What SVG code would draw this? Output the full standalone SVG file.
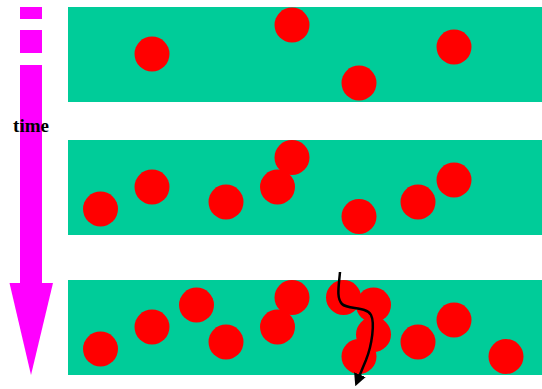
<svg xmlns="http://www.w3.org/2000/svg" width="542" height="389" viewBox="0 0 542 389">
<defs>
<style>
.band{fill:#00CC99}
.p{fill:#FF0000}
.t{fill:#FF00FF}
.lbl{font-family:"Liberation Serif","Times New Roman","DejaVu Serif",serif;font-weight:bold;font-size:19px;fill:#000}
</style>
<marker id="ah" viewBox="0 0 10 10" refX="2" refY="5" markerWidth="5" markerHeight="5" orient="auto" markerUnits="strokeWidth">
<path d="M0,0 L10,5 L0,10 Z" fill="#000"/>
</marker>
</defs>
<rect width="542" height="389" fill="#fff"/>
<g id="time-arrow">
<rect class="t" x="20" y="7" width="22" height="12"/>
<rect class="t" x="20" y="30" width="22" height="23"/>
<rect class="t" x="20" y="65" width="22" height="219"/>
<polygon class="t" points="9.5,283 53,283 31,375"/>
<text class="lbl" x="31" y="132" text-anchor="middle">time</text>
</g>
<g id="frame1">
<rect class="band" x="68" y="7" width="474" height="95"/>
<circle class="p" cx="152" cy="54" r="17.5"/>
<circle class="p" cx="292" cy="25" r="17.5"/>
<circle class="p" cx="359" cy="83" r="17.5"/>
<circle class="p" cx="454" cy="47" r="17.5"/>
</g>
<g id="frame2">
<rect class="band" x="68" y="140" width="474" height="95"/>
<circle class="p" cx="100.5" cy="209" r="17.5"/>
<circle class="p" cx="152" cy="187" r="17.5"/>
<circle class="p" cx="226" cy="202" r="17.5"/>
<circle class="p" cx="292" cy="157.5" r="17.5"/>
<circle class="p" cx="277.5" cy="187" r="17.5"/>
<circle class="p" cx="359" cy="216.5" r="17.5"/>
<circle class="p" cx="418" cy="202" r="17.5"/>
<circle class="p" cx="454" cy="180" r="17.5"/>
</g>
<g id="frame3">
<rect class="band" x="68" y="280" width="474" height="95"/>
<circle class="p" cx="100.5" cy="349" r="17.5"/>
<circle class="p" cx="152" cy="327" r="17.5"/>
<circle class="p" cx="196.5" cy="305" r="17.5"/>
<circle class="p" cx="226" cy="342" r="17.5"/>
<circle class="p" cx="292" cy="297.5" r="17.5"/>
<circle class="p" cx="277.5" cy="327" r="17.5"/>
<circle class="p" cx="343.5" cy="297.5" r="17.5"/>
<circle class="p" cx="373.5" cy="305" r="17.5"/>
<circle class="p" cx="373.5" cy="334.5" r="17.5"/>
<circle class="p" cx="359" cy="356.5" r="17.5"/>
<circle class="p" cx="418" cy="342" r="17.5"/>
<circle class="p" cx="454" cy="320" r="17.5"/>
<circle class="p" cx="506" cy="356.5" r="17.5"/>
</g>
<g id="connectors">
<path d="M340,272 C339,285 336,298 342,304 C348,310 366,306 371,315 C375,323 372,345 366,360 C363,367 361,372 359,377" fill="none" stroke="#000" stroke-width="2.5" marker-end="url(#ah)"/>
</g>
</svg>
